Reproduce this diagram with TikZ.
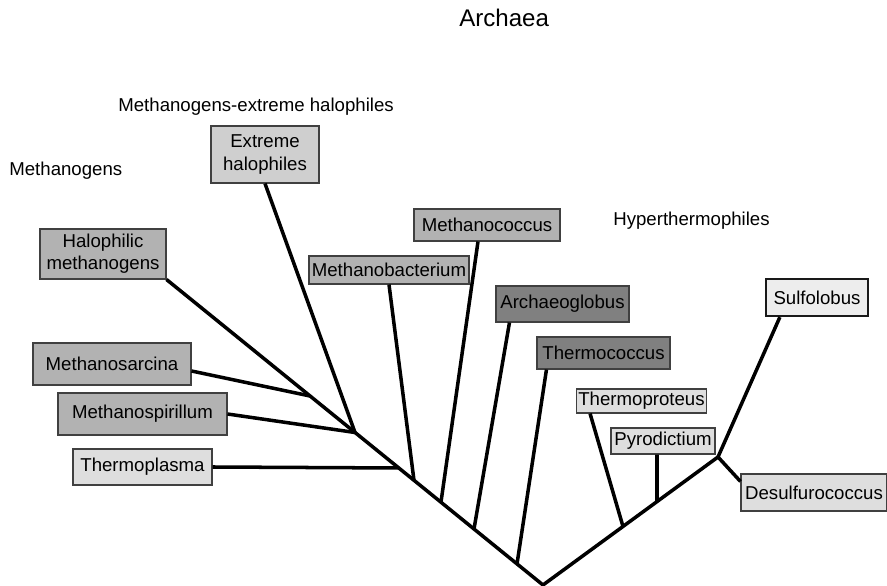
\documentclass[tikz,border=0pt]{standalone}
\usepackage{fontspec}
\setmainfont{Liberation Sans}
\usepackage{tikz}
\usetikzlibrary{positioning}

\newcommand\taxfont{\fontsize{10.6}{12.6}\selectfont}
\newcommand\titlefont{\fontsize{13.7}{16}\selectfont}

\begin{document}
\begin{tikzpicture}[
    taxon/.style={draw=black!75, line width=0.6pt, inner sep=1pt, align=center, font=\taxfont},
    midbox/.style={taxon, fill=black!30},
    lightbox/.style={taxon, fill=black!13},
    palebox/.style={taxon, fill=black!19},
    darkbox/.style={taxon, fill=black!50},
    grouplabel/.style={inner sep=0pt, anchor=base west, font=\taxfont},
    branch/.style={line width=2pt},
]
\useasboundingbox (0,0) rectangle (17.74,11.72);

% Group titles
\node[grouplabel, font=\titlefont] (archaea) at (9.18, 11.18) {Archaea};
\node[grouplabel] (methext) at (2.36, 9.48) {Methanogens-extreme halophiles};
\node[grouplabel] (methanogens) at (0.18, 8.20) {Methanogens};
\node[grouplabel] (hyper) at (12.26, 7.20) {Hyperthermophiles};

% Methanogens / halophiles
\node[palebox, minimum width=2.16cm, minimum height=1.14cm] (exthalo) at (5.30, 8.63) {Extreme\\halophiles};
\node[midbox, minimum width=2.52cm, minimum height=1.00cm] (halometh) at (2.06, 6.64) {Halophilic\\methanogens};
\node[midbox, minimum width=3.16cm, minimum height=0.84cm] (msarcina) at (2.24, 4.44) {Methanosarcina};
\node[midbox, minimum width=3.38cm, minimum height=0.84cm] (mspiril) at (2.85, 3.44) {Methanospirillum};
\node[lightbox, minimum width=2.78cm, minimum height=0.72cm] (tplasma) at (2.85, 2.38) {Thermoplasma};
\node[midbox, minimum width=3.20cm, minimum height=0.56cm] (mbact) at (7.78, 6.32) {Methanobacterium};
\node[midbox, minimum width=2.92cm, minimum height=0.64cm] (mcoccus) at (9.74, 7.22) {Methanococcus};

% Hyperthermophiles
\node[darkbox, minimum width=2.66cm, minimum height=0.72cm] (aglobus) at (11.25, 5.64) {Archaeoglobus};
\node[darkbox, minimum width=2.66cm, minimum height=0.64cm] (tcoccus) at (12.07, 4.66) {Thermococcus};
\node[lightbox, minimum width=2.58cm, minimum height=0.48cm] (tproteus) at (12.83, 3.70) {Thermoproteus};
\node[lightbox, minimum width=2.08cm, minimum height=0.52cm] (pyrod) at (13.26, 2.90) {Pyrodictium};
\node[taxon, fill=black!7, line width=1.3pt, draw=black!90, minimum width=2.04cm, minimum height=0.74cm] (sulfo) at (16.34, 5.77) {Sulfolobus};
\node[lightbox, minimum width=2.92cm, minimum height=0.74cm] (desulfo) at (16.28, 1.87) {Desulfurococcus};

% Branch points
\coordinate (root) at (10.86, 0.02);
\coordinate (jtc) at (10.34, 0.44);
\coordinate (jag) at (9.48, 1.14);
\coordinate (jmc) at (8.82, 1.68);
\coordinate (jmb) at (8.28, 2.11);
\coordinate (jtp) at (7.98, 2.36);
\coordinate (jms) at (7.10, 3.07);
\coordinate (jsa) at (6.20, 3.80);
\coordinate (jtr) at (12.46, 1.19);
\coordinate (jpy) at (13.14, 1.69);
\coordinate (jsu) at (14.36, 2.58);

% Main stems
\draw[branch] (halometh.south east) -- (root) -- (jsu);

% Left side
\draw[branch] ([yshift=-0.14cm]msarcina.east) -- (jsa);
\draw[branch] (mspiril.east) -- (jms);
\draw[branch] (exthalo.south) -- (jms);
\draw[branch] (tplasma.east) -- (jtp);
\draw[branch] (mbact.south) -- (jmb);
\draw[branch] ([xshift=-0.18cm]mcoccus.south) -- (jmc);
\draw[branch] ([xshift=0.28cm]aglobus.south west) -- (jag);
\draw[branch] ([xshift=0.2cm]tcoccus.south west) -- (jtc);

% Right side
\draw[branch] ([xshift=0.28cm]tproteus.south west) -- (jtr);
\draw[branch] ([xshift=-0.12cm]pyrod.south) -- (jpy);
\draw[branch] ([xshift=0.3cm]sulfo.south west) -- (jsu);
\draw[branch] (jsu) -- ([yshift=-0.16cm]desulfo.north west);

\end{tikzpicture}
\end{document}
